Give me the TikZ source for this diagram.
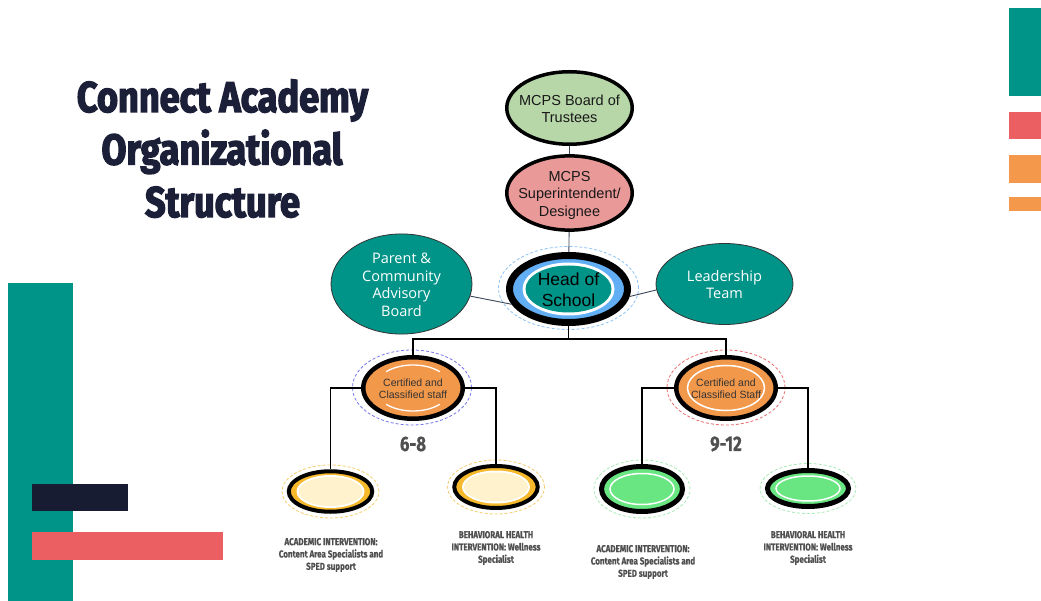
\documentclass[tikz,border=0pt]{standalone}
\usepackage{fontspec}
\setmainfont{Liberation Sans}
\newfontfamily\opensans{Open Sans}
\newfontfamily\titlef[FakeStretch=0.84,FakeBold=3]{Fira Sans}
\newfontfamily\condf[FakeStretch=0.8,FakeBold=0.6]{Fira Sans}
\usetikzlibrary{shapes.geometric}
\definecolor{cteal}{RGB}{0,148,136}
\definecolor{cnavy}{RGB}{27,31,56}
\definecolor{cnavyb}{RGB}{23,28,51}
\definecolor{cred}{RGB}{235,95,99}
\definecolor{corange}{RGB}{244,153,75}
\definecolor{bgreen}{RGB}{183,215,168}
\definecolor{bpink}{RGB}{234,153,153}
\definecolor{hblue}{RGB}{97,174,245}
\definecolor{dblue}{RGB}{142,195,245}
\definecolor{certor}{RGB}{242,152,75}
\definecolor{cviolet}{RGB}{120,120,240}
\definecolor{cdred}{RGB}{235,110,110}
\definecolor{cyel}{RGB}{246,185,43}
\definecolor{ccream}{RGB}{255,242,204}
\definecolor{dyel}{RGB}{248,205,110}
\definecolor{cgreen}{RGB}{105,229,130}
\definecolor{dgreen}{RGB}{168,236,182}
\definecolor{lblgray}{RGB}{80,80,80}
\definecolor{conn}{RGB}{60,72,88}
\newcommand{\ctext}[1]{\raisebox{-2.5pt}[\height][\depth]{\makebox[0pt]{\begin{tabular}{@{}c@{}}#1\end{tabular}}}}
\newcommand{\ltext}[1]{\makebox[0pt]{\begin{tabular}{@{}c@{}}#1\end{tabular}}}
\tikzset{
  toplvl/.style={ellipse, draw=black, line width=3.5pt, inner sep=0pt,
    minimum width=125.5pt, minimum height=72.5pt,
    font=\fontsize{14.5}{17.5}\selectfont, text=black!90},
  side/.style={ellipse, draw=black!80, line width=0.8pt, fill=cteal, inner sep=0pt,
    minimum width=141pt, minimum height=81pt, text=white,
    font=\opensans\fontsize{14.5}{17.7}\selectfont},
  cert/.style={ellipse, draw=black, line width=4.5pt, fill=certor, inner sep=0pt,
    minimum width=99.5pt, minimum height=61.5pt, text=black!80,
    font=\fontsize{10.5}{12}\selectfont},
  leaf/.style={ellipse, draw=black, line width=4pt, inner sep=0pt},
  thinconn/.style={draw=conn, line width=0.9pt},
  tree/.style={draw=black, line width=1.6pt},
  ring/.style={dashed, line width=0.8pt, dash pattern=on 3pt off 2pt},
  lbl/.style={text=lblgray, font=\condf\bfseries\fontsize{10}{12.3}\selectfont, inner sep=0pt},
  grade/.style={text=lblgray, font=\condf\bfseries\fontsize{21}{24}\selectfont, inner sep=0pt},
  ttl/.style={text=cnavy, font=\titlef\bfseries\fontsize{43}{50}\selectfont, inner sep=0pt, anchor=base}
}
\begin{document}
\begin{tikzpicture}[x=1pt,y=-1pt]
\useasboundingbox (0,0) rectangle (1041,601);
\fill[white] (0,0) rectangle (1041,601);
% decorative bars
\fill[cteal] (1009,8) rectangle (1041,96);
\fill[cred] (1009,112) rectangle (1041,139);
\fill[corange] (1009,155) rectangle (1041,183);
\fill[corange] (1009,197) rectangle (1041,211);
\fill[cteal] (8,283) rectangle (73,601);
\fill[cnavyb] (32,484) rectangle (128,511);
\fill[cred] (32,532) rectangle (223,560);
% title
\node[ttl] (title1) at (222.5,112) {Connect Academy};
\node[ttl] (title2) at (222,164.5) {Organizational};
\node[ttl] (title3) at (222.5,217) {Structure};
% top levels
\node[toplvl, fill=bgreen] (board) at (569.5,108) {\ctext{MCPS Board of\\Trustees}};
\node[toplvl, fill=bpink] (super) at (569.5,193) {\ctext{MCPS\\Superintendent/\\Designee}};
% head of school
\draw[ring, draw=dblue] (568.5,288) ellipse [x radius=70pt, y radius=41.5pt];
\node[ellipse, draw=black, line width=7pt, fill=hblue, inner sep=0pt,
  minimum width=118pt, minimum height=67pt, text=black,
  font=\fontsize{17.5}{21.5}\selectfont,
  path picture={
    \fill[white] (path picture bounding box.center) ellipse [x radius=46pt, y radius=26.5pt];
    \fill[cteal] (path picture bounding box.center) ellipse [x radius=43pt, y radius=23.5pt];
  }] (head) at (568.5,289) {\ctext{Head of\\School}};
% side nodes
\node[side] (parent) at (401.5,284) {\ctext{Parent \&\\Community\\Advisory\\Board}};
\node[side, minimum width=137pt] (lead) at (724.5,284) {\ctext{Leadership\\Team}};
% connectors top
\draw[thinconn] (board) -- (super);
\draw[thinconn] (super) -- (head);
\draw[thinconn] (parent.-10) -- (head.195);
\draw[thinconn] (lead.185) -- (head.-7);
% certified staff
\draw[ring, draw=cviolet] (412,387.5) ellipse [x radius=59.5pt, y radius=37.5pt];
\node[cert,
  path picture={
    \draw[white, line width=1.3pt] ([shift={(135:38pt and 23pt)}]path picture bounding box.center) arc[start angle=135, end angle=45, x radius=38pt, y radius=23pt];
    \draw[white, line width=1.3pt] ([shift={(225:38pt and 23pt)}]path picture bounding box.center) arc[start angle=225, end angle=315, x radius=38pt, y radius=23pt];
  }] (cert1) at (413,388) {\ctext{Certified and\\Classified staff}};
\draw[ring, draw=cdred] (726,387.5) ellipse [x radius=59pt, y radius=37.5pt];
\node[cert,
  path picture={
    \draw[white, line width=1.5pt] (path picture bounding box.center) ellipse [x radius=38.5pt, y radius=22.5pt];
  }] (cert2) at (726,388) {\ctext{Certified and\\Classified Staff}};
\coordinate (bus) at (568.5,339);
\draw[tree] (head.south) -- (bus);
\draw[tree] (cert1.north) |- (bus) -| (cert2.north);
% grades
\node[grade] (g1) at (413,444) {6-8};
\node[grade] (g2) at (726,444) {9-12};
% leaves
\tikzset{
  yleaf/.style={leaf, fill=cyel, path picture={
    \fill[white] (path picture bounding box.center) ellipse [x radius=34pt, y radius=16.5pt];
    \fill[ccream] (path picture bounding box.center) ellipse [x radius=32pt, y radius=14.5pt];}},
  gleaf/.style={leaf, line width=5pt, fill=cgreen, path picture={
    \draw[white, line width=1.5pt] (path picture bounding box.center) ellipse [x radius=32pt, y radius=#1];}}
}
\draw[ring, draw=dyel] (330.5,491.5) ellipse [x radius=48.5pt, y radius=26.5pt];
\node[yleaf, minimum width=83.5pt, minimum height=40.5pt] (a1) at (330.5,491.5) {};
\draw[ring, draw=dyel] (496,487) ellipse [x radius=48.5pt, y radius=27pt];
\node[yleaf, minimum width=83.5pt, minimum height=42pt] (b1) at (496,487) {};
\draw[ring, draw=dgreen] (642,489) ellipse [x radius=48pt, y radius=29pt];
\node[gleaf=15.5pt, minimum width=81pt, minimum height=45pt] (a2) at (642,489) {};
\draw[ring, draw=dgreen] (808,488.5) ellipse [x radius=48pt, y radius=25pt];
\node[gleaf=12.5pt, minimum width=81pt, minimum height=36pt] (b2) at (808,488.5) {};
\draw[tree] (cert1.west) -| (a1.north);
\draw[tree] (cert1.east) -| (b1.north);
\draw[tree] (cert2.west) -| (a2.north);
\draw[tree] (cert2.east) -| (b2.north);
% leaf labels
\node[lbl] (la1) at (331,555) {\ltext{ACADEMIC INTERVENTION:\\Content Area Specialists and\\SPED support}};
\node[lbl] (lb1) at (496,548) {\ltext{BEHAVIORAL HEALTH\\INTERVENTION: Wellness\\Specialist}};
\node[lbl] (la2) at (643,562) {\ltext{ACADEMIC INTERVENTION:\\Content Area Specialists and\\SPED support}};
\node[lbl] (lb2) at (808,548) {\ltext{BEHAVIORAL HEALTH\\INTERVENTION: Wellness\\Specialist}};
\end{tikzpicture}
\end{document}
